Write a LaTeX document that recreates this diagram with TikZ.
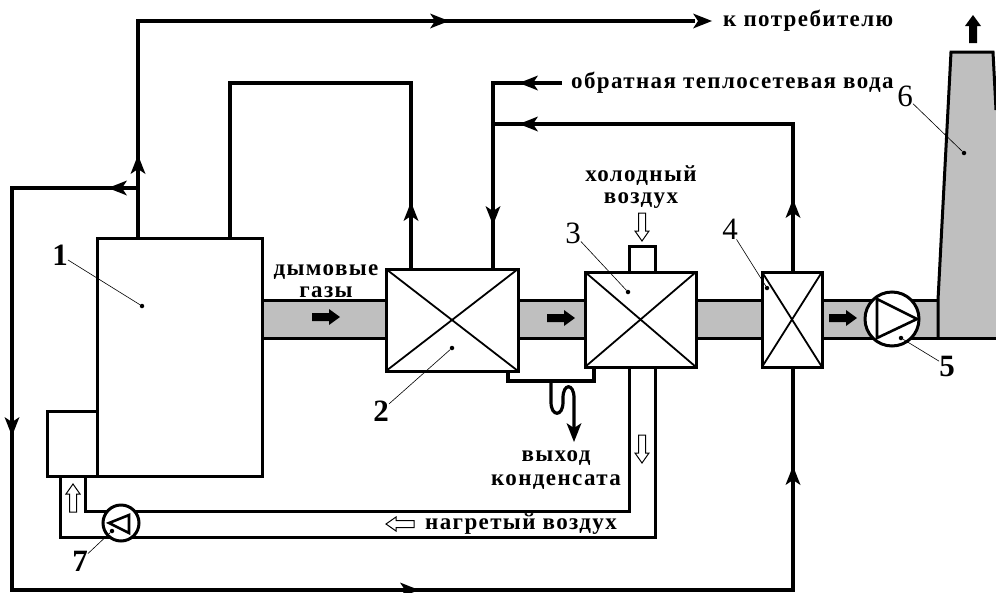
\documentclass[tikz,border=0pt]{standalone}
\usepackage{fontspec}
\setmainfont{Liberation Serif}
\newfontfamily\lab[LetterSpace=6]{Liberation Serif}
\usetikzlibrary{calc}
\definecolor{smoke}{gray}{0.75}
\tikzset{
 x=1pt,y=-1pt,
 pipe/.style={line width=3.8pt,line join=miter},
 wall/.style={line width=3pt,line join=miter},
 hxbox/.style={draw,line width=3pt,fill=white,inner sep=0pt,outer sep=0pt},
 leader/.style={line width=0.6pt},
 txt/.style={font=\lab\bfseries\fontsize{23}{22}\selectfont,inner sep=0pt,align=center},
 num/.style={font=\fontsize{31}{31}\selectfont,inner sep=0pt},
 bnum/.style={font=\bfseries\fontsize{31}{31}\selectfont,inner sep=0pt},
 dot/.style={circle,fill=black,inner sep=0pt,minimum size=4.5pt},
 flowtip/.pic={\fill (9,0) -- (-10,-7.5) -- (-5,0) -- (-10,7.5) -- cycle;},
 blockarrow/.pic={\fill (14,0) -- (3,-8) -- (3,-4) -- (-14,-4) -- (-14,4) -- (3,4) -- (3,8) -- cycle;},
 hollowarrow/.pic={\draw[line width=1pt,fill=white] (14,0) -- (4,-7) -- (4,-3.5) -- (-14,-3.5) -- (-14,3.5) -- (4,3.5) -- (4,7) -- cycle;},
}
\begin{document}
\begin{tikzpicture}
\useasboundingbox (0,0) rectangle (996,592);
% gas duct and stack
\fill[smoke] (262,300) rectangle (938,338);
\fill[smoke] (938,338) -- (938,300) -- (951,52) -- (993,52) -- (996,110) -- (996,338) -- cycle;
\draw[wall] (262,300) -- (938,300);
\draw[wall] (262,338) -- (996,338);
\draw[wall] (938,338) -- (938,300) -- (951,52) -- (993,52) -- (996,110);
% equipment
\node[hxbox,minimum width=165pt,minimum height=238pt] (boiler) at (179.5,357) {};
\node[hxbox,minimum width=50pt,minimum height=65pt] (burner) at (72,443.5) {};
\node[hxbox,minimum width=132pt,minimum height=102pt] (hxa) at (452,320) {};
\node[hxbox,minimum width=111pt,minimum height=95pt] (hxb) at (640.5,319.5) {};
\node[hxbox,minimum width=60pt,minimum height=95pt] (hxc) at (792,319.5) {};
\draw[line width=1.8pt] (hxa.north west) -- (hxa.south east) (hxa.north east) -- (hxa.south west);
\draw[line width=1.8pt] (hxb.north west) -- (hxb.south east) (hxb.north east) -- (hxb.south west);
\draw[line width=1.8pt] (hxc.north west) -- (hxc.south east) (hxc.north east) -- (hxc.south west);
% cold air stub
\coordinate (stubL) at (629,246); \coordinate (stubR) at (655,246);
\draw[wall] (stubL |- hxb.north) -- (stubL) -- (stubR) -- (stubR |- hxb.north);
% hot air duct
\coordinate (airTR) at (629,511); \coordinate (airBR) at (655,537);
\coordinate (airTL) at (85,511); \coordinate (airBL) at (60,537);
\draw[wall] (airTR |- hxb.south) -- (airTR) -- (airTL) -- (airTL |- burner.south);
\draw[wall] (airBR |- hxb.south) -- (airBR) -- (airBL) -- (airBL |- burner.south);
% condensate
\coordinate (cA) at (508,381); \coordinate (cB) at (594,381);
\draw[wall,line width=3.4pt] (cA |- hxa.south) -- (cA) -- (cB) -- (cB |- hxb.south);
\coordinate (sA) at (551,381); \coordinate (sEnd) at (574,434);
\draw[pipe,line width=3.2pt] (sA) -- (551,402) .. controls (551,417) and (563,417) .. (563,402) -- (563,398) .. controls (563,383) and (574,383) .. (574,398) -- (sEnd);
\pic at (574,433) [rotate=-90] {flowtip};
% fans
\node[hxbox,circle,minimum size=54pt] (fanA) at (892,319) {};
\draw[line width=2.6pt,line join=miter] (877,299) -- (917,319) -- (877,338) -- cycle;
\node[hxbox,circle,minimum size=36pt] (fanB) at (121,523) {};
\draw[line width=2.6pt,line join=miter] (109,523) -- (129,515) -- (129,533) -- cycle;
% water lines
\coordinate (sup) at (695,21); \coordinate (supC) at (138,21);
\coordinate (j) at (138,188); \coordinate (lT) at (12,188); \coordinate (lB) at (12,590);
\coordinate (r) at (793,590);
\coordinate (ret) at (562,83); \coordinate (retC) at (493,83); \coordinate (retJ) at (493,124);
\coordinate (ecoC) at (793,124);
\coordinate (bA) at (230,83); \coordinate (bB) at (411,83);
\draw[pipe] (supC |- boiler.north) -- (supC) -- (sup);
\draw[pipe] (j) -- (lT) -- (lB) -- (r) -- (r |- hxc.south);
\draw[pipe] (bA |- boiler.north) -- (bA) -- (bB) -- (bB |- hxa.north);
\draw[pipe] (ret) -- (retC) -- (retC |- hxa.north);
\draw[pipe] (ecoC |- hxc.north) -- (ecoC) -- (retJ);
% flow tips
\pic at (440,21) {flowtip};
\pic at (703,21) {flowtip};
\pic at (138,164) [rotate=90] {flowtip};
\pic at (117,188) [rotate=180] {flowtip};
\pic at (12,427) [rotate=-90] {flowtip};
\pic at (410,590) {flowtip};
\pic at (793,475) [rotate=90] {flowtip};
\pic at (793,208) [rotate=90] {flowtip};
\pic at (411,211) [rotate=90] {flowtip};
\pic at (493,216) [rotate=-90] {flowtip};
\pic at (528,83) [rotate=180] {flowtip};
\pic at (528,124) [rotate=180] {flowtip};
% gas arrows
\pic at (326,317) {blockarrow};
\pic at (561,318) {blockarrow};
\pic at (843,318) {blockarrow};
\pic at (973,29) [rotate=90] {blockarrow};
% air arrows
\pic at (642,227) [rotate=-90] {hollowarrow};
\pic at (642,449) [rotate=-90] {hollowarrow};
\pic at (73,498) [rotate=90] {hollowarrow};
\pic at (400,524) [rotate=180] {hollowarrow};
% labels
\node[txt,anchor=west] (tSup) at (723,21) {к потребителю};
\node[txt,anchor=west] (tRet) at (571,83) {обратная теплосетевая вода};
\node[txt] (tGas) at (326,281) {дымовые\\газы};
\node[txt] (tCold) at (641,187) {холодный\\воздух};
\node[txt] (tCond) at (556,470) {выход\\[2pt]конденсата};
\node[txt,anchor=west] (tHot) at (425,524) {нагретый воздух};
% numbers
\node[bnum] (n1) at (60,255) {1};
\node[bnum] (n2) at (381,411) {2};
\node[num] (n3) at (573,233) {3};
\node[num] (n4) at (730,229) {4};
\node[bnum] (n5) at (947,366) {5};
\node[num] (n6) at (905,96) {6};
\node[bnum] (n7) at (80,561) {7};
\node[dot] (d1) at (142,306) {};
\node[dot] (d2) at (452,348) {};
\node[dot] (d3) at (628,292) {};
\node[dot] (d4) at (767,288) {};
\node[dot] (d5) at (901,338) {};
\node[dot] (d6) at (964,153) {};
\node[dot] (d7) at (112,531) {};
\draw[leader] (n1) -- (d1);
\draw[leader] (n2) -- (d2);
\draw[leader] (n3) -- (d3);
\draw[leader] (n4) -- (d4);
\draw[leader] (n5) -- (d5);
\draw[leader] (n6) -- (d6);
\draw[leader] (n7) -- (d7);
\end{tikzpicture}
\end{document}
